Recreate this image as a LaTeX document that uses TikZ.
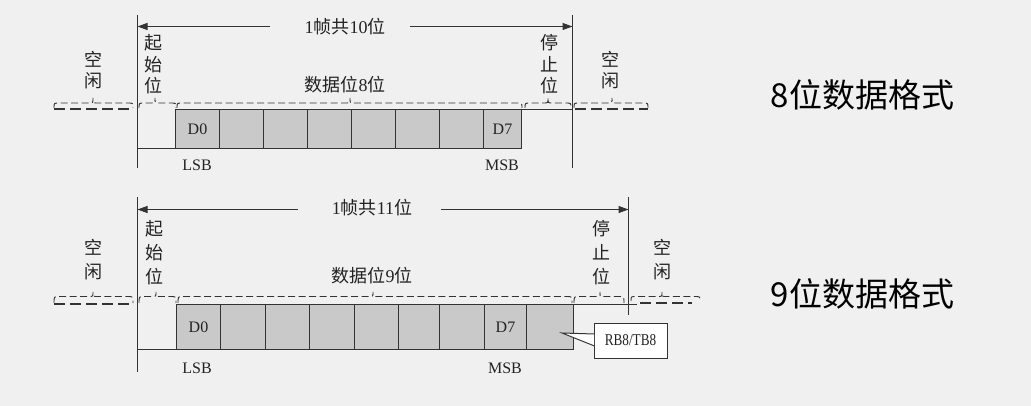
\documentclass[tikz,border=0pt]{standalone}
\usepackage{fontspec}
\setmainfont{Liberation Serif}
\newfontfamily\cjk{Noto Sans CJK SC}
\newfontfamily\narrowserif[FakeStretch=0.8]{Liberation Serif}
\usetikzlibrary{arrows.meta}
\definecolor{bg}{HTML}{F0F0F0}
\definecolor{ln}{HTML}{333333}
\definecolor{bx}{HTML}{C9C9C9}
\definecolor{tx}{HTML}{222222}
\newcommand\zh[1]{{\cjk #1}}
% x0 x1 xtip ybase ytop ytip
\newcommand\mybrace[6]{\draw[brc] (#1,#4) .. controls (#1,#5) .. ({#1+5},#5) -- ({#3-4},#5) .. controls (#3,#5) .. (#3,#6) .. controls (#3,#5) .. ({#3+4},#5) -- ({#2-5},#5) .. controls (#2,#5) .. (#2,#4);}
\tikzset{
  sig/.style={draw=ln, line width=1pt},
  idle/.style={draw=ln, line width=1.4pt, dash pattern=on 11pt off 5pt},
  brc/.style={draw=ln, line width=0.9pt, dash pattern=on 7pt off 3.5pt},
  dim/.style={draw=ln, line width=1pt, -{Triangle[length=10pt,width=7pt]}},
  cell/.style={draw=ln, fill=bx, line width=1pt, anchor=north west, inner sep=0pt, outer sep=0pt, text=tx, font=\fontsize{16}{18}\selectfont},
  lbl/.style={text=tx, align=center, inner sep=0pt},
  lat/.style={text=tx, inner sep=0pt, font=\fontsize{16}{18}\selectfont},
  big/.style={text=black, inner sep=0pt, font=\cjk\fontsize{33}{38}\selectfont},
  cbox/.style={draw=ln, fill=white, line width=1pt, minimum width=73pt, minimum height=35pt, inner sep=0pt, outer sep=0pt, text=tx, font=\narrowserif\fontsize{16.5}{18}\selectfont},
}
\begin{document}
\begin{tikzpicture}[x=1pt,y=-1pt]
\fill[bg] (0,0) rectangle (1031,406);
\useasboundingbox (0,0) rectangle (1031,406);

% ================= 8-bit format =================
\coordinate (L1t) at (137.5,15); \coordinate (L1b) at (137.5,168);
\coordinate (R1t) at (572.5,15); \coordinate (R1b) at (572.5,168);
\coordinate (L1a) at (137.5,26.5); \coordinate (R1a) at (572.5,26.5);
\draw[sig] (L1t) -- (L1b);
\draw[sig] (R1t) -- (R1b);
\node[lbl, font=\fontsize{18}{21}\selectfont] (t1) at (345,27) {1\zh{帧共}10\zh{位}};
\draw[dim] ([xshift=-34pt]t1.west |- L1a) -- (L1a);
\draw[dim] ([xshift=24pt]t1.east |- R1a) -- (R1a);

% cells
\node[cell, minimum width=44pt, minimum height=39pt] (a1) at (175.5,109.5) {D0};
\node[cell, minimum width=44pt, minimum height=39pt] (a2) at (219.5,109.5) {};
\node[cell, minimum width=44pt, minimum height=39pt] (a3) at (263.5,109.5) {};
\node[cell, minimum width=44pt, minimum height=39pt] (a4) at (307.5,109.5) {};
\node[cell, minimum width=44pt, minimum height=39pt] (a5) at (351.5,109.5) {};
\node[cell, minimum width=44pt, minimum height=39pt] (a6) at (395.5,109.5) {};
\node[cell, minimum width=44pt, minimum height=39pt] (a7) at (439.5,109.5) {};
\node[cell, minimum width=38pt, minimum height=39pt] (a8) at (483.5,109.5) {D7};

% signal
\draw[idle] (54,109) -- (134,109);
\draw[sig] (L1b |- a1.south west) -- (a1.south west);
\draw[sig] (a8.north east) -- (R1t |- a8.north east);
\draw[idle] (575,109) -- (648,109);

% braces
\mybrace{54}{133}{93}{108}{103}{98}
\mybrace{139}{176}{155}{108}{103}{98}
\mybrace{177}{522}{350}{108}{103}{98}
\mybrace{525}{571}{548}{108}{103}{98}
\mybrace{574}{648}{612}{108}{103}{98}

% labels
\node[lbl, font=\cjk\fontsize{18}{20.5}\selectfont] (i1l) at (93,70) {空\\闲};
\node[lbl, font=\cjk\fontsize{18}{21.5}\selectfont] (s1) at (153,64.5) {起\\始\\位};
\node[lbl, font=\fontsize{18}{21}\selectfont] (d1) at (345,85) {\zh{数据位}8\zh{位}};
\node[lbl, font=\cjk\fontsize{18}{21.5}\selectfont] (p1) at (549,64.5) {停\\止\\位};
\node[lbl, font=\cjk\fontsize{18}{20.5}\selectfont] (i1r) at (610,70) {空\\闲};
\node[lat] (lsb1) at (197,165) {LSB};
\node[lat] (msb1) at (502,165) {MSB};
\node[big] (f8) at (862.5,95) {8位数据格式};

% ================= 9-bit format =================
\coordinate (L2t) at (137.5,197); \coordinate (L2b) at (137.5,372);
\coordinate (R2t) at (628.5,197); \coordinate (R2b) at (628.5,315);
\coordinate (L2a) at (137.5,209.5); \coordinate (R2a) at (628.5,209.5);
\draw[sig] (L2t) -- (L2b);
\draw[sig] (R2t) -- (R2b);
\node[lbl, font=\fontsize{18}{21}\selectfont] (t2) at (372,208) {1\zh{帧共}11\zh{位}};
\draw[dim] ([xshift=-34pt]t2.west |- L2a) -- (L2a);
\draw[dim] ([xshift=29pt]t2.east |- R2a) -- (R2a);

\node[cell, minimum width=44pt, minimum height=45pt] (b1) at (176.5,304.5) {D0};
\node[cell, minimum width=45pt, minimum height=45pt] (b2) at (220.5,304.5) {};
\node[cell, minimum width=44pt, minimum height=45pt] (b3) at (265.5,304.5) {};
\node[cell, minimum width=45pt, minimum height=45pt] (b4) at (309.5,304.5) {};
\node[cell, minimum width=44pt, minimum height=45pt] (b5) at (354.5,304.5) {};
\node[cell, minimum width=41pt, minimum height=45pt] (b6) at (398.5,304.5) {};
\node[cell, minimum width=45pt, minimum height=45pt] (b7) at (439.5,304.5) {};
\node[cell, minimum width=42pt, minimum height=45pt] (b8) at (484.5,304.5) {D7};
\node[cell, minimum width=47pt, minimum height=45pt] (b9) at (526.5,304.5) {};

\draw[idle] (54,304) -- (134,304);
\draw[sig] (L2b |- b1.south west) -- (b1.south west);
\draw[sig] (b9.north east) -- (637,304.5);
\draw[idle] (640,303) -- (692,303);

\mybrace{54}{133}{93}{303}{296.5}{292}
\mybrace{139}{176}{156}{303}{296.5}{292}
\mybrace{178}{572}{373}{303}{296.5}{292}
\mybrace{574}{624}{600}{303}{296.5}{292}
\mybrace{631}{700}{662}{301}{296.5}{292}

\node[lbl, font=\cjk\fontsize{18}{24}\selectfont] (i2l) at (93,260) {空\\闲};
\node[lbl, font=\cjk\fontsize{18}{24}\selectfont] (s2) at (154,253) {起\\始\\位};
\node[lbl, font=\fontsize{18}{21}\selectfont] (d2) at (372,276) {\zh{数据位}9\zh{位}};
\node[lbl, font=\cjk\fontsize{18}{24}\selectfont] (p2) at (601,253) {停\\止\\位};
\node[lbl, font=\cjk\fontsize{18}{24}\selectfont] (i2r) at (662,260) {空\\闲};
\node[lat] (lsb2) at (197,368) {LSB};
\node[lat] (msb2) at (505,368) {MSB};
\node[big] (f9) at (862.5,294) {9位数据格式};

% callout
\node[cbox] (cb) at (630.5,340.5) {RB8/TB8};
\coordinate (ptip) at (562,333);
\fill[white] ([yshift=-6pt]cb.west) -- (ptip) -- ([yshift=7pt]cb.west) -- cycle;
\draw[draw=ln, line width=1pt] ([yshift=-5.5pt,xshift=0.5pt]cb.west) -- (ptip) -- ([yshift=6.5pt,xshift=0.5pt]cb.west);
\end{tikzpicture}
\end{document}
